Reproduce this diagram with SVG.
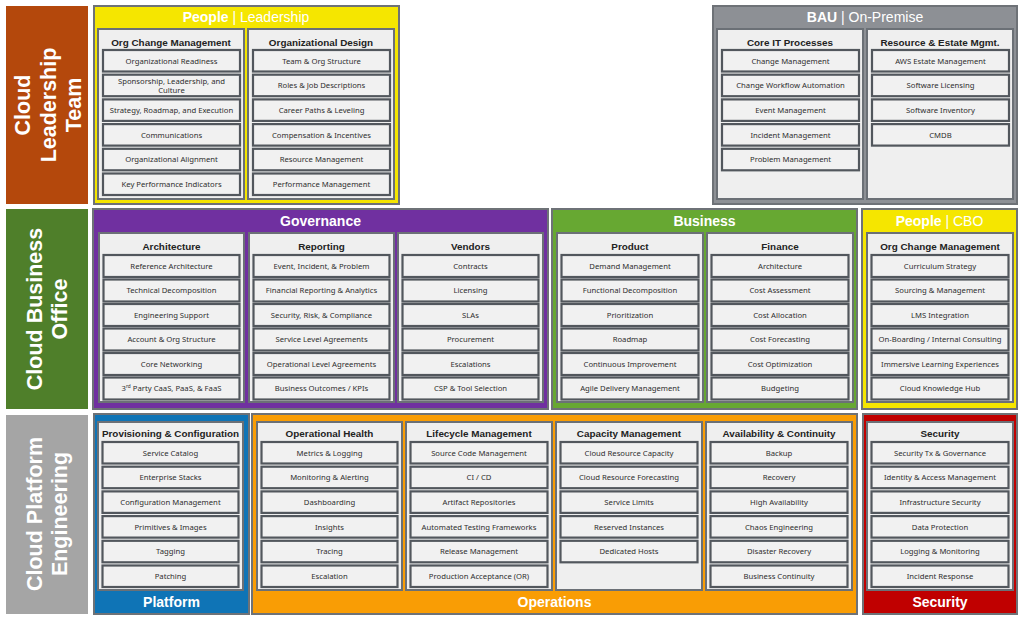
<svg xmlns="http://www.w3.org/2000/svg" width="1024" height="619" viewBox="0 0 1024 619">
<style>
.grp{stroke:#6e7277;stroke-width:2}
.col{fill:#efefef;stroke:#6b7076;stroke-width:2}
.itm{fill:#f1f1f1;stroke:#52575d;stroke-width:2.2}
.it{font-family:"Noto Sans","Open Sans",sans-serif;font-size:7.7px;fill:#2e2e2e;text-anchor:middle}
.ct{font-family:"Liberation Sans",Arial,sans-serif;font-weight:bold;font-size:9.9px;fill:#222;text-anchor:middle}
.gt{font-family:"Liberation Sans",Arial,sans-serif;font-size:14px;fill:#fff;text-anchor:middle}
.gtb{font-weight:bold}
.lbl{font-family:"Liberation Sans",Arial,sans-serif;font-weight:bold;font-size:21.5px;fill:#fff;text-anchor:middle}
</style>
<rect width="1024" height="619" fill="#fff"/>

<!-- Row labels -->
<g id="lbl-leadership">
<rect x="6" y="6" width="82" height="198" fill="#b4480c"/>
<text class="lbl" transform="translate(47,105) rotate(-90)"><tspan x="0" y="-17">Cloud</tspan><tspan x="0" y="8.5">Leadership</tspan><tspan x="0" y="34">Team</tspan></text>
</g>
<g id="lbl-cbo">
<rect x="6" y="209" width="82" height="200" fill="#4f7f2a"/>
<text class="lbl" transform="translate(47,309) rotate(-90)"><tspan x="0" y="-5.3">Cloud Business</tspan><tspan x="0" y="20.2">Office</tspan></text>
</g>
<g id="lbl-cpe">
<rect x="6" y="415" width="82" height="199" fill="#a5a5a5"/>
<text class="lbl" transform="translate(47,514) rotate(-90)"><tspan x="0" y="-5.3">Cloud Platform</tspan><tspan x="0" y="20.2">Engineering</tspan></text>
</g>

<!-- Row 1 groups -->
<g id="grp-people-leadership">
<rect class="grp" x="94" y="6" width="305" height="198" fill="#f5e600"/>
<text class="gt" x="246" y="22"><tspan class="gtb">People</tspan> | Leadership</text>
</g>
<g id="grp-bau">
<rect class="grp" x="713" y="6" width="304" height="198" fill="#8d9095"/>
<text class="gt" x="865" y="22"><tspan class="gtb">BAU</tspan> | On-Premise</text>
</g>

<!-- Row 2 groups -->
<g id="grp-governance">
<rect class="grp" x="93" y="209" width="455" height="200" fill="#7030a0"/>
<text class="gt gtb" x="320.5" y="226">Governance</text>
</g>
<g id="grp-business">
<rect class="grp" x="552" y="209" width="305" height="200" fill="#67a832"/>
<text class="gt gtb" x="704.5" y="226">Business</text>
</g>
<g id="grp-people-cbo">
<rect class="grp" x="862" y="209" width="155" height="200" fill="#f5e600"/>
<text class="gt" x="939.5" y="226"><tspan class="gtb">People</tspan> | CBO</text>
</g>

<!-- Row 3 groups -->
<g id="grp-platform">
<rect class="grp" x="94" y="414" width="155" height="200" fill="#0f74b6"/>
<text class="gt gtb" x="171.5" y="607">Platform</text>
</g>
<g id="grp-operations">
<rect class="grp" x="252" y="414" width="605" height="200" fill="#f99d05"/>
<text class="gt gtb" x="554.5" y="607">Operations</text>
</g>
<g id="grp-security">
<rect class="grp" x="863" y="414" width="154" height="200" fill="#c00000"/>
<text class="gt gtb" x="940" y="607">Security</text>
</g>

<!-- Row 1 columns -->
<g id="col-org-change-1">
<rect class="col" x="98" y="29" width="146" height="170"/>
<text class="ct" x="171" y="46">Org Change Management</text>
<rect class="itm" x="103" y="50" width="137" height="21.5"/><text class="it" x="171.5" y="63.5">Organizational Readiness</text>
<rect class="itm" x="103" y="74.7" width="137" height="21.5"/><text class="it" x="171.5" y="83.5">Sponsorship, Leadership, and</text><text class="it" x="171.5" y="93">Culture</text>
<rect class="itm" x="103" y="99.4" width="137" height="21.5"/><text class="it" x="171.5" y="112.9">Strategy, Roadmap, and Execution</text>
<rect class="itm" x="103" y="124.1" width="137" height="21.5"/><text class="it" x="171.5" y="137.6">Communications</text>
<rect class="itm" x="103" y="148.8" width="137" height="21.5"/><text class="it" x="171.5" y="162.3">Organizational Alignment</text>
<rect class="itm" x="103" y="173.5" width="137" height="21.5"/><text class="it" x="171.5" y="187">Key Performance Indicators</text>
</g>
<g id="col-org-design">
<rect class="col" x="248" y="29" width="146" height="170"/>
<text class="ct" x="321" y="46">Organizational Design</text>
<rect class="itm" x="253" y="50" width="137" height="21.5"/><text class="it" x="321.5" y="63.5">Team &amp; Org Structure</text>
<rect class="itm" x="253" y="74.7" width="137" height="21.5"/><text class="it" x="321.5" y="88.2">Roles &amp; Job Descriptions</text>
<rect class="itm" x="253" y="99.4" width="137" height="21.5"/><text class="it" x="321.5" y="112.9">Career Paths &amp; Leveling</text>
<rect class="itm" x="253" y="124.1" width="137" height="21.5"/><text class="it" x="321.5" y="137.6">Compensation &amp; Incentives</text>
<rect class="itm" x="253" y="148.8" width="137" height="21.5"/><text class="it" x="321.5" y="162.3">Resource Management</text>
<rect class="itm" x="253" y="173.5" width="137" height="21.5"/><text class="it" x="321.5" y="187">Performance Management</text>
</g>
<g id="col-core-it">
<rect class="col" x="717" y="29" width="146" height="170"/>
<text class="ct" x="790" y="46">Core IT Processes</text>
<rect class="itm" x="722" y="50" width="137" height="21.5"/><text class="it" x="790.5" y="63.5">Change Management</text>
<rect class="itm" x="722" y="74.7" width="137" height="21.5"/><text class="it" x="790.5" y="88.2">Change Workflow Automation</text>
<rect class="itm" x="722" y="99.4" width="137" height="21.5"/><text class="it" x="790.5" y="112.9">Event Management</text>
<rect class="itm" x="722" y="124.1" width="137" height="21.5"/><text class="it" x="790.5" y="137.6">Incident Management</text>
<rect class="itm" x="722" y="148.8" width="137" height="21.5"/><text class="it" x="790.5" y="162.3">Problem Management</text>
</g>
<g id="col-resource-estate">
<rect class="col" x="867" y="29" width="146" height="170"/>
<text class="ct" x="940" y="46">Resource &amp; Estate Mgmt.</text>
<rect class="itm" x="872" y="50" width="137" height="21.5"/><text class="it" x="940.5" y="63.5">AWS Estate Management</text>
<rect class="itm" x="872" y="74.7" width="137" height="21.5"/><text class="it" x="940.5" y="88.2">Software Licensing</text>
<rect class="itm" x="872" y="99.4" width="137" height="21.5"/><text class="it" x="940.5" y="112.9">Software Inventory</text>
<rect class="itm" x="872" y="124.1" width="137" height="21.5"/><text class="it" x="940.5" y="137.6">CMDB</text>
</g>

<!-- Row 2 columns -->
<g id="col-architecture">
<rect class="col" x="99" y="233" width="145" height="169"/>
<text class="ct" x="171.5" y="250">Architecture</text>
<rect class="itm" x="103.5" y="255" width="136" height="22"/><text class="it" x="171.5" y="268.7">Reference Architecture</text>
<rect class="itm" x="103.5" y="279.5" width="136" height="22"/><text class="it" x="171.5" y="293.2">Technical Decomposition</text>
<rect class="itm" x="103.5" y="304" width="136" height="22"/><text class="it" x="171.5" y="317.7">Engineering Support</text>
<rect class="itm" x="103.5" y="328.5" width="136" height="22"/><text class="it" x="171.5" y="342.2">Account &amp; Org Structure</text>
<rect class="itm" x="103.5" y="353" width="136" height="22"/><text class="it" x="171.5" y="366.7">Core Networking</text>
<rect class="itm" x="103.5" y="377.5" width="136" height="22"/><text class="it" x="171.5" y="391.2">3<tspan font-size="4.8px" dy="-2.9">rd</tspan><tspan dy="2.9"> Party CaaS, PaaS, &amp; FaaS</tspan></text>
</g>
<g id="col-reporting">
<rect class="col" x="249" y="233" width="145" height="169"/>
<text class="ct" x="321.5" y="250">Reporting</text>
<rect class="itm" x="253.5" y="255" width="136" height="22"/><text class="it" x="321.5" y="268.7">Event, Incident, &amp; Problem</text>
<rect class="itm" x="253.5" y="279.5" width="136" height="22"/><text class="it" x="321.5" y="293.2">Financial Reporting &amp; Analytics</text>
<rect class="itm" x="253.5" y="304" width="136" height="22"/><text class="it" x="321.5" y="317.7">Security, Risk, &amp; Compliance</text>
<rect class="itm" x="253.5" y="328.5" width="136" height="22"/><text class="it" x="321.5" y="342.2">Service Level Agreements</text>
<rect class="itm" x="253.5" y="353" width="136" height="22"/><text class="it" x="321.5" y="366.7">Operational Level Agreements</text>
<rect class="itm" x="253.5" y="377.5" width="136" height="22"/><text class="it" x="321.5" y="391.2">Business Outcomes / KPIs</text>
</g>
<g id="col-vendors">
<rect class="col" x="398" y="233" width="145" height="169"/>
<text class="ct" x="470.5" y="250">Vendors</text>
<rect class="itm" x="402.5" y="255" width="136" height="22"/><text class="it" x="470.5" y="268.7">Contracts</text>
<rect class="itm" x="402.5" y="279.5" width="136" height="22"/><text class="it" x="470.5" y="293.2">Licensing</text>
<rect class="itm" x="402.5" y="304" width="136" height="22"/><text class="it" x="470.5" y="317.7">SLAs</text>
<rect class="itm" x="402.5" y="328.5" width="136" height="22"/><text class="it" x="470.5" y="342.2">Procurement</text>
<rect class="itm" x="402.5" y="353" width="136" height="22"/><text class="it" x="470.5" y="366.7">Escalations</text>
<rect class="itm" x="402.5" y="377.5" width="136" height="22"/><text class="it" x="470.5" y="391.2">CSP &amp; Tool Selection</text>
</g>
<g id="col-product">
<rect class="col" x="557" y="233" width="146" height="169"/>
<text class="ct" x="630" y="250">Product</text>
<rect class="itm" x="561.5" y="255" width="137" height="22"/><text class="it" x="630" y="268.7">Demand Management</text>
<rect class="itm" x="561.5" y="279.5" width="137" height="22"/><text class="it" x="630" y="293.2">Functional Decomposition</text>
<rect class="itm" x="561.5" y="304" width="137" height="22"/><text class="it" x="630" y="317.7">Prioritization</text>
<rect class="itm" x="561.5" y="328.5" width="137" height="22"/><text class="it" x="630" y="342.2">Roadmap</text>
<rect class="itm" x="561.5" y="353" width="137" height="22"/><text class="it" x="630" y="366.7">Continuous Improvement</text>
<rect class="itm" x="561.5" y="377.5" width="137" height="22"/><text class="it" x="630" y="391.2">Agile Delivery Management</text>
</g>
<g id="col-finance">
<rect class="col" x="707" y="233" width="146" height="169"/>
<text class="ct" x="780" y="250">Finance</text>
<rect class="itm" x="711.5" y="255" width="137" height="22"/><text class="it" x="780" y="268.7">Architecture</text>
<rect class="itm" x="711.5" y="279.5" width="137" height="22"/><text class="it" x="780" y="293.2">Cost Assessment</text>
<rect class="itm" x="711.5" y="304" width="137" height="22"/><text class="it" x="780" y="317.7">Cost Allocation</text>
<rect class="itm" x="711.5" y="328.5" width="137" height="22"/><text class="it" x="780" y="342.2">Cost Forecasting</text>
<rect class="itm" x="711.5" y="353" width="137" height="22"/><text class="it" x="780" y="366.7">Cost Optimization</text>
<rect class="itm" x="711.5" y="377.5" width="137" height="22"/><text class="it" x="780" y="391.2">Budgeting</text>
</g>
<g id="col-org-change-2">
<rect class="col" x="867" y="233" width="146" height="169"/>
<text class="ct" x="940" y="250">Org Change Management</text>
<rect class="itm" x="871.5" y="255" width="137" height="22"/><text class="it" x="940" y="268.7">Curriculum Strategy</text>
<rect class="itm" x="871.5" y="279.5" width="137" height="22"/><text class="it" x="940" y="293.2">Sourcing &amp; Management</text>
<rect class="itm" x="871.5" y="304" width="137" height="22"/><text class="it" x="940" y="317.7">LMS Integration</text>
<rect class="itm" x="871.5" y="328.5" width="137" height="22"/><text class="it" x="940" y="342.2">On-Boarding / Internal Consulting</text>
<rect class="itm" x="871.5" y="353" width="137" height="22"/><text class="it" x="940" y="366.7">Immersive Learning Experiences</text>
<rect class="itm" x="871.5" y="377.5" width="137" height="22"/><text class="it" x="940" y="391.2">Cloud Knowledge Hub</text>
</g>

<!-- Row 3 columns -->
<g id="col-provisioning">
<rect class="col" x="98" y="422" width="145" height="168"/>
<text class="ct" x="170.5" y="437">Provisioning &amp; Configuration</text>
<rect class="itm" x="102.5" y="442" width="136" height="21.5"/><text class="it" x="170.5" y="455.5">Service Catalog</text>
<rect class="itm" x="102.5" y="466.7" width="136" height="21.5"/><text class="it" x="170.5" y="480.2">Enterprise Stacks</text>
<rect class="itm" x="102.5" y="491.4" width="136" height="21.5"/><text class="it" x="170.5" y="504.9">Configuration Management</text>
<rect class="itm" x="102.5" y="516.1" width="136" height="21.5"/><text class="it" x="170.5" y="529.6">Primitives &amp; Images</text>
<rect class="itm" x="102.5" y="540.8" width="136" height="21.5"/><text class="it" x="170.5" y="554.3">Tagging</text>
<rect class="itm" x="102.5" y="565.5" width="136" height="21.5"/><text class="it" x="170.5" y="579">Patching</text>
</g>
<g id="col-op-health">
<rect class="col" x="257" y="422" width="145" height="168"/>
<text class="ct" x="329.5" y="437">Operational Health</text>
<rect class="itm" x="261.5" y="442" width="136" height="21.5"/><text class="it" x="329.5" y="455.5">Metrics &amp; Logging</text>
<rect class="itm" x="261.5" y="466.7" width="136" height="21.5"/><text class="it" x="329.5" y="480.2">Monitoring &amp; Alerting</text>
<rect class="itm" x="261.5" y="491.4" width="136" height="21.5"/><text class="it" x="329.5" y="504.9">Dashboarding</text>
<rect class="itm" x="261.5" y="516.1" width="136" height="21.5"/><text class="it" x="329.5" y="529.6">Insights</text>
<rect class="itm" x="261.5" y="540.8" width="136" height="21.5"/><text class="it" x="329.5" y="554.3">Tracing</text>
<rect class="itm" x="261.5" y="565.5" width="136" height="21.5"/><text class="it" x="329.5" y="579">Escalation</text>
</g>
<g id="col-lifecycle">
<rect class="col" x="406" y="422" width="146" height="168"/>
<text class="ct" x="479" y="437">Lifecycle Management</text>
<rect class="itm" x="410.5" y="442" width="137" height="21.5"/><text class="it" x="479" y="455.5">Source Code Management</text>
<rect class="itm" x="410.5" y="466.7" width="137" height="21.5"/><text class="it" x="479" y="480.2">CI / CD</text>
<rect class="itm" x="410.5" y="491.4" width="137" height="21.5"/><text class="it" x="479" y="504.9">Artifact Repositories</text>
<rect class="itm" x="410.5" y="516.1" width="137" height="21.5"/><text class="it" x="479" y="529.6">Automated Testing Frameworks</text>
<rect class="itm" x="410.5" y="540.8" width="137" height="21.5"/><text class="it" x="479" y="554.3">Release Management</text>
<rect class="itm" x="410.5" y="565.5" width="137" height="21.5"/><text class="it" x="479" y="579">Production Acceptance (OR)</text>
</g>
<g id="col-capacity">
<rect class="col" x="556" y="422" width="146" height="168"/>
<text class="ct" x="629" y="437">Capacity Management</text>
<rect class="itm" x="560.5" y="442" width="137" height="21.5"/><text class="it" x="629" y="455.5">Cloud Resource Capacity</text>
<rect class="itm" x="560.5" y="466.7" width="137" height="21.5"/><text class="it" x="629" y="480.2">Cloud Resource Forecasting</text>
<rect class="itm" x="560.5" y="491.4" width="137" height="21.5"/><text class="it" x="629" y="504.9">Service Limits</text>
<rect class="itm" x="560.5" y="516.1" width="137" height="21.5"/><text class="it" x="629" y="529.6">Reserved Instances</text>
<rect class="itm" x="560.5" y="540.8" width="137" height="21.5"/><text class="it" x="629" y="554.3">Dedicated Hosts</text>
</g>
<g id="col-availability">
<rect class="col" x="706" y="422" width="146" height="168"/>
<text class="ct" x="779" y="437">Availability &amp; Continuity</text>
<rect class="itm" x="710.5" y="442" width="137" height="21.5"/><text class="it" x="779" y="455.5">Backup</text>
<rect class="itm" x="710.5" y="466.7" width="137" height="21.5"/><text class="it" x="779" y="480.2">Recovery</text>
<rect class="itm" x="710.5" y="491.4" width="137" height="21.5"/><text class="it" x="779" y="504.9">High Availability</text>
<rect class="itm" x="710.5" y="516.1" width="137" height="21.5"/><text class="it" x="779" y="529.6">Chaos Engineering</text>
<rect class="itm" x="710.5" y="540.8" width="137" height="21.5"/><text class="it" x="779" y="554.3">Disaster Recovery</text>
<rect class="itm" x="710.5" y="565.5" width="137" height="21.5"/><text class="it" x="779" y="579">Business Continuity</text>
</g>
<g id="col-security">
<rect class="col" x="867" y="422" width="146" height="168"/>
<text class="ct" x="940" y="437">Security</text>
<rect class="itm" x="871.5" y="442" width="137" height="21.5"/><text class="it" x="940" y="455.5">Security Tx &amp; Governance</text>
<rect class="itm" x="871.5" y="466.7" width="137" height="21.5"/><text class="it" x="940" y="480.2">Identity &amp; Access Management</text>
<rect class="itm" x="871.5" y="491.4" width="137" height="21.5"/><text class="it" x="940" y="504.9">Infrastructure Security</text>
<rect class="itm" x="871.5" y="516.1" width="137" height="21.5"/><text class="it" x="940" y="529.6">Data Protection</text>
<rect class="itm" x="871.5" y="540.8" width="137" height="21.5"/><text class="it" x="940" y="554.3">Logging &amp; Monitoring</text>
<rect class="itm" x="871.5" y="565.5" width="137" height="21.5"/><text class="it" x="940" y="579">Incident Response</text>
</g>
</svg>
